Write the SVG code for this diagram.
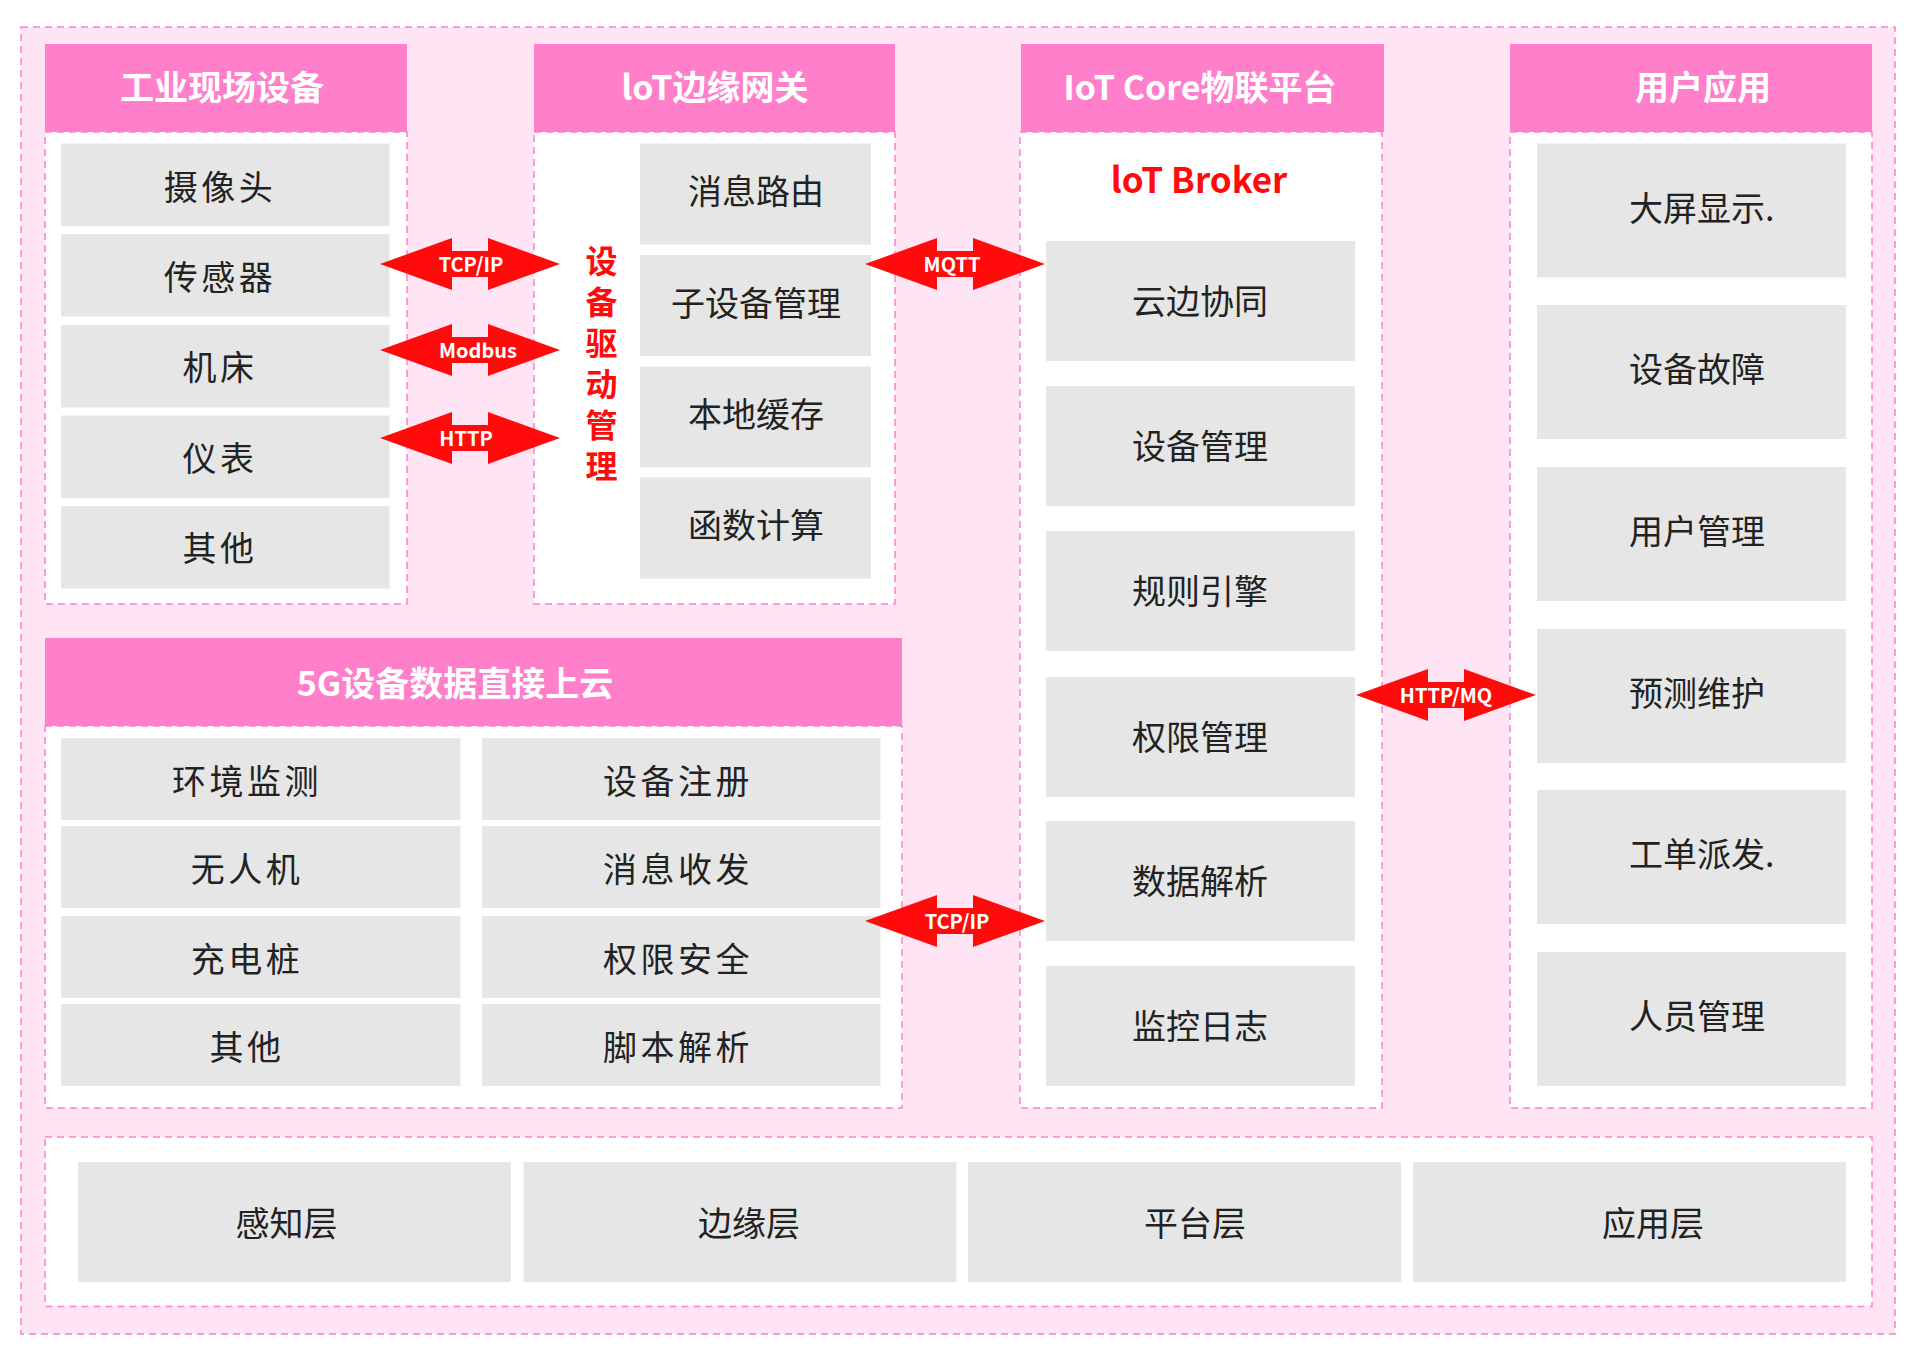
<svg xmlns="http://www.w3.org/2000/svg" xmlns:xlink="http://www.w3.org/1999/xlink" width="1920" height="1366" viewBox="0 0 1920 1366">
<defs>
<style>
.bg{fill:#FFE5F4;stroke:#FF80CC;stroke-width:1.5;stroke-dasharray:7 5}
.body{fill:#FFFFFF;stroke:#FF80CC;stroke-width:1.5;stroke-dasharray:7 5}
.hd{fill:#FF7FCB}
.box{fill:#E6E6E6}
.arr{fill:#FF0B0B}
text{font-family:"Noto Sans CJK SC","Noto Sans",sans-serif}
.ht{font-size:34px;font-weight:bold;fill:#FFFFFF;text-anchor:middle}
.t{font-size:34px;fill:#222222;text-anchor:middle}
.ts{letter-spacing:3.5px}
.tl{font-size:34px;fill:#222222;text-anchor:start}
.al{font-size:20px;font-weight:bold;fill:#FFFFFF;text-anchor:middle}
.red{font-weight:bold;fill:#FF0B0B;text-anchor:middle}
</style>
<path id="dbl" d="M-90 0 L-18 -26 L-18 -13 L18 -13 L18 -26 L90 0 L18 26 L18 13 L-18 13 L-18 26 Z"/>
</defs>

<rect class="bg" x="21" y="27" width="1874" height="1307"/>

<g id="panel-field">
<rect class="body" x="45" y="132" width="362" height="472"/>
<rect class="hd" x="45" y="44" width="362" height="88"/>
<text class="ht" x="222" y="100">工业现场设备</text>
<g id="field-camera"><rect class="box" x="61" y="143.5" width="328.5" height="82.5"/><text class="t ts" x="220" y="199.5">摄像头</text></g>
<g id="field-sensor"><rect class="box" x="61" y="234" width="328.5" height="82.5"/><text class="t ts" x="220" y="290">传感器</text></g>
<g id="field-machine"><rect class="box" x="61" y="325" width="328.5" height="82.5"/><text class="t ts" x="220" y="380">机床</text></g>
<g id="field-meter"><rect class="box" x="61" y="415.5" width="328.5" height="82.5"/><text class="t ts" x="220" y="471">仪表</text></g>
<g id="field-other"><rect class="box" x="61" y="506" width="328.5" height="82.5"/><text class="t ts" x="220" y="561">其他</text></g>
</g>

<g id="panel-gateway">
<rect class="body" x="534" y="132" width="361" height="472"/>
<rect class="hd" x="534" y="44" width="361" height="88"/>
<text class="ht" x="715" y="100">loT边缘网关</text>
<text font-size="32" font-weight="bold" fill="#FF0B0B" writing-mode="vertical-rl" letter-spacing="9" x="601.5" y="245">设备驱动管理</text>
<g id="gw-route"><rect class="box" x="640" y="143.5" width="231" height="101"/><text class="t" x="756" y="204">消息路由</text></g>
<g id="gw-subdev"><rect class="box" x="640" y="255" width="231" height="101"/><text class="t" x="756" y="315.5">子设备管理</text></g>
<g id="gw-cache"><rect class="box" x="640" y="366.5" width="231" height="101"/><text class="t" x="756" y="427">本地缓存</text></g>
<g id="gw-func"><rect class="box" x="640" y="477.5" width="231" height="101"/><text class="t" x="756" y="538">函数计算</text></g>
</g>

<g id="panel-core">
<rect class="body" x="1020" y="132" width="362" height="976"/>
<rect class="hd" x="1021" y="44" width="363" height="88"/>
<text class="ht" x="1200" y="100">IoT Core物联平台</text>
<text class="red" font-size="35" x="1199" y="193">loT Broker</text>
<g id="core-edge"><rect class="box" x="1046" y="241" width="309" height="120"/><text class="t" x="1200" y="314">云边协同</text></g>
<g id="core-device"><rect class="box" x="1046" y="386" width="309" height="120"/><text class="t" x="1200" y="459">设备管理</text></g>
<g id="core-rule"><rect class="box" x="1046" y="531" width="309" height="120"/><text class="t" x="1200" y="604">规则引擎</text></g>
<g id="core-auth"><rect class="box" x="1046" y="677" width="309" height="120"/><text class="t" x="1200" y="750">权限管理</text></g>
<g id="core-parse"><rect class="box" x="1046" y="821" width="309" height="120"/><text class="t" x="1200" y="894">数据解析</text></g>
<g id="core-log"><rect class="box" x="1046" y="966" width="309" height="120"/><text class="t" x="1200" y="1039">监控日志</text></g>
</g>

<g id="panel-app">
<rect class="body" x="1510" y="132" width="362" height="976"/>
<rect class="hd" x="1510" y="44" width="362" height="88"/>
<text class="ht" x="1703" y="100">用户应用</text>
<g id="app-screen"><rect class="box" x="1537" y="143.5" width="309" height="134"/><text class="tl" x="1629" y="220.5">大屏显示.</text></g>
<g id="app-fault"><rect class="box" x="1537" y="305" width="309" height="134"/><text class="tl" x="1629" y="382">设备故障</text></g>
<g id="app-user"><rect class="box" x="1537" y="467" width="309" height="134"/><text class="tl" x="1629" y="544">用户管理</text></g>
<g id="app-predict"><rect class="box" x="1537" y="629" width="309" height="134"/><text class="tl" x="1629" y="706">预测维护</text></g>
<g id="app-order"><rect class="box" x="1537" y="790" width="309" height="134"/><text class="tl" x="1629" y="867">工单派发.</text></g>
<g id="app-staff"><rect class="box" x="1537" y="952" width="309" height="134"/><text class="tl" x="1629" y="1029">人员管理</text></g>
</g>

<g id="panel-5g">
<rect class="body" x="45" y="726" width="857" height="382"/>
<rect class="hd" x="45" y="638" width="857" height="88"/>
<text class="ht" x="455" y="696">5G设备数据直接上云</text>
<g id="g5-env"><rect class="box" x="61" y="738" width="399.5" height="82"/><text class="t ts" x="247" y="794">环境监测</text></g>
<g id="g5-drone"><rect class="box" x="61" y="826" width="399.5" height="82"/><text class="t ts" x="247" y="882">无人机</text></g>
<g id="g5-charge"><rect class="box" x="61" y="916" width="399.5" height="82"/><text class="t ts" x="247" y="972">充电桩</text></g>
<g id="g5-other"><rect class="box" x="61" y="1004" width="399.5" height="82"/><text class="t ts" x="247" y="1060">其他</text></g>
<g id="g5-reg"><rect class="box" x="482" y="738" width="398.5" height="82"/><text class="t ts" x="678" y="794">设备注册</text></g>
<g id="g5-msg"><rect class="box" x="482" y="826" width="398.5" height="82"/><text class="t ts" x="678" y="882">消息收发</text></g>
<g id="g5-sec"><rect class="box" x="482" y="916" width="398.5" height="82"/><text class="t ts" x="678" y="972">权限安全</text></g>
<g id="g5-script"><rect class="box" x="482" y="1004" width="398.5" height="82"/><text class="t ts" x="678" y="1060">脚本解析</text></g>
</g>

<g id="panel-layers">
<rect class="body" x="45" y="1137" width="1827" height="169.5"/>
<g id="layer-sense"><rect class="box" x="78" y="1162" width="433" height="120"/><text class="t" x="286.5" y="1236">感知层</text></g>
<g id="layer-edge"><rect class="box" x="523.5" y="1162" width="433" height="120"/><text class="t" x="749" y="1236">边缘层</text></g>
<g id="layer-platform"><rect class="box" x="968" y="1162" width="433" height="120"/><text class="t" x="1195" y="1236">平台层</text></g>
<g id="layer-app"><rect class="box" x="1413" y="1162" width="433" height="120"/><text class="t" x="1653" y="1236">应用层</text></g>
</g>

<g id="connectors">
<use class="arr" xlink:href="#dbl" href="#dbl" transform="translate(470 264)"/>
<text class="al" x="471" y="272">TCP/IP</text>
<use class="arr" xlink:href="#dbl" href="#dbl" transform="translate(470 350)"/>
<text class="al" x="478" y="358">Modbus</text>
<use class="arr" xlink:href="#dbl" href="#dbl" transform="translate(470 438)"/>
<text class="al" x="466" y="446">HTTP</text>
<use class="arr" xlink:href="#dbl" href="#dbl" transform="translate(955 264)"/>
<text class="al" x="952" y="272">MQTT</text>
<use class="arr" xlink:href="#dbl" href="#dbl" transform="translate(955 921)"/>
<text class="al" x="957" y="929">TCP/IP</text>
<use class="arr" xlink:href="#dbl" href="#dbl" transform="translate(1446 695)"/>
<text class="al" x="1446" y="703">HTTP/MQ</text>
</g>
</svg>
